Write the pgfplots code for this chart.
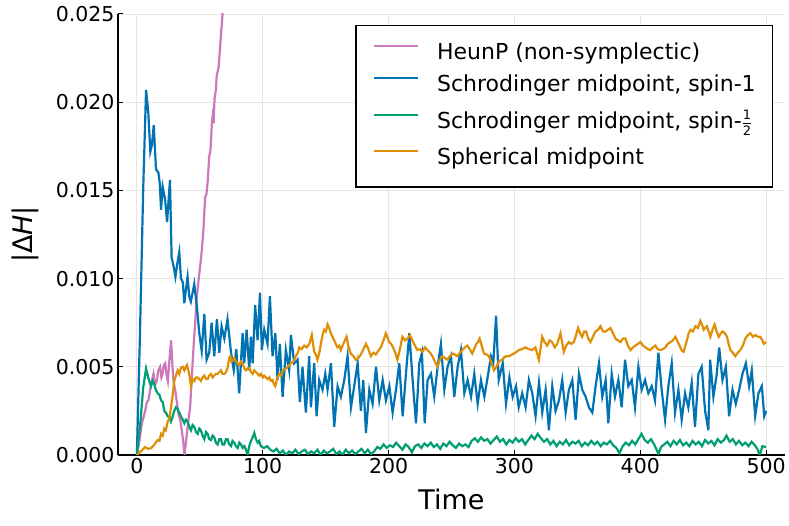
\documentclass[border=0pt]{standalone}
\usepackage{pgfplots}
\pgfplotsset{compat=1.18}
\usepackage{pgfplotstable}
\usepackage{fontspec}
\setmainfont{DejaVu Sans}
\definecolor{cpink}{HTML}{CC78BC}
\definecolor{cblue}{HTML}{0173B2}
\definecolor{cgreen}{HTML}{029E73}
\definecolor{corange}{HTML}{DE8F05}

% values in units of 0.001
\pgfplotstableread{
t v
0 0
2 0.8
4 1.8
6.6 2.5
8 3.0
9.2 3.1
11 3.9
13.2 4.6
14.5 4.0
15.9 4.2
17 4.8
18.5 5.0
19.5 4.4
20.4 4.6
21.5 5.1
22.5 5.2
23.5 4.6
24.6 4.2
26 5.5
27.2 6.5
28.2 5.1
29.1 4.2
30.4 3.7
31.8 3.0
33.1 2.3
34.4 2.0
35.7 1.4
36.8 0.8
37.8 0.0
38.8 0.6
39.7 1.2
41 2.0
42.3 2.7
43.7 4.5
45 6.1
46.3 7.5
47.6 8.9
49 9.9
50.3 10.7
51.6 11.6
52.9 12.8
54.2 14.6
55.3 14.8
56.4 15.6
57.4 16.9
58.5 17.3
59.6 18.8
60.2 19.2
61 18.8
61.7 20.2
62.8 20.7
63.4 21.5
64.1 21.7
65 22.0
66 23.0
67 24.0
68.1 25.0
69.5 26.5
}\heun

\pgfplotstableread{
t v
0 0
2.5 7.0
5 15.0
7.3 20.7
9 19.5
10.7 17.2
12 17.6
13.4 18.7
15.2 16.2
17.1 16.0
18.2 15.4
19.2 13.9
20.5 15.2
22.4 14.5
24 13.2
26.3 15.6
27.6 11.2
29.2 10.7
30.6 10.1
32 10.8
33.7 11.5
35 10.0
36.5 9.8
37.7 8.6
39 9.4
40.3 10.1
41.6 9.0
42.9 8.7
44.3 9.2
45.6 9.7
47.7 8.4
49.6 6.9
51.5 5.9
53.6 8.0
55.4 5.4
57.5 5.8
59.4 7.5
61.5 5.6
63.6 7.7
65.5 5.8
67.3 7.3
69.5 6.6
72 7.7
74.8 5.8
77 4.8
79 6.0
81.3 3.5
84 6.9
85.3 5.2
87.2 7.1
89.3 4.8
90.6 6.7
92 5.2
94 8.5
95.9 6.5
97.8 9.2
99.3 5.95
101.2 7.1
103.8 6.3
105.7 9.0
107.8 5.6
110 6.9
111.8 4.25
113.6 6.3
115.8 3.3
118.4 5.95
121 4.8
122.4 6.8
125 5.2
127.7 5.4
129.5 3.0
131.6 5.0
134.3 2.4
136.9 5.6
138.3 2.7
140.9 5.2
142.8 2.2
144.9 4.25
147.5 3.7
149.7 4.6
151.5 3.7
154.2 5.2
156.8 1.6
159.5 3.9
162.1 3.3
164.8 4.25
167.4 5.6
170.1 2.7
172.7 3.9
175.4 5.2
178 2.5
179.9 4.25
182 1.25
184.7 3.7
187.3 2.9
190 5.0
192.6 3.1
195.3 4.25
197.9 3.1
200.6 3.9
203.2 2.4
205.9 3.7
208.5 5.2
211.2 2.2
213.8 4.6
216.5 6.9
219.1 4.25
221.8 1.8
224.4 5.2
226.5 5.8
228.7 1.8
231 4.25
233.7 4.6
236.3 3.3
239 5.0
241.6 6.3
244.3 3.7
246.9 5.0
249.6 5.6
252.2 3.3
254.9 5.0
257.5 5.95
260.2 3.5
262.8 4.25
265.5 3.3
268.1 4.6
270.8 2.9
273.4 4.25
276.1 3.3
278.7 4.4
281.4 5.6
283.2 5.2
285.4 7.9
287.5 4.25
290.7 5.2
293.3 2.9
296 4.4
298.6 3.3
301.3 3.9
303.4 2.7
306.2 3.5
308.9 2.7
311.5 4.25
314.2 3.5
316.8 2.2
319.5 4.1
322.1 2.4
324.8 3.7
327.4 1.4
330.1 3.9
332.7 2.5
335.4 3.1
338 4.25
340.7 2.4
343.3 3.7
346 4.25
348.6 2.0
351.3 4.6
353.9 3.7
356.6 3.3
359.2 2.7
361.9 2.4
364.5 3.9
367.2 5.2
369.8 3.3
372.5 4.25
374.6 1.8
377.3 4.6
379.9 3.3
382.6 4.25
385.2 2.7
387.9 5.4
390.5 3.9
393.2 4.25
395.8 2.7
398.5 5.0
401.1 3.7
403.8 4.25
406.4 3.5
409.1 3.9
411.7 3.1
414.4 5.8
417 3.7
419.7 2.0
422.3 3.9
425 5.2
427.6 2.4
430.3 3.7
432.9 2.0
435.6 3.5
438.2 2.7
440.9 4.1
443.5 1.6
446.2 4.6
448.8 5.0
451.5 2.5
454.1 1.4
455.5 5.4
458.1 3.3
460.8 4.6
462.7 6.1
465.3 4.25
468 5.0
470.6 2.2
473.3 3.7
475.9 2.9
478.6 3.7
481.2 4.6
483.9 5.2
486.5 3.9
488.6 4.8
491.3 2.2
493.9 3.5
496.6 3.9
498.5 2.2
500 2.5
}\spinone

\pgfplotstableread{
t v
0 0
3 2.0
5 3.8
7.3 4.9
9 4.4
11.2 3.9
12.5 4.2
13.9 4.0
15 3.7
16.5 3.5
18 3.4
19.2 3.1
20.5 3.0
21.8 2.5
23 2.4
24.5 2.2
26 2.1
27.1 1.9
28.5 2.2
29.7 2.5
31 2.7
32.4 2.6
33.7 2.4
35 2.2
36.5 2.0
37.7 1.8
39 2.0
40.3 1.9
41.6 1.6
43 1.4
44.3 1.7
45.6 1.6
47 1.3
48.3 1.2
49.6 1.5
50.9 1.4
52.2 1.1
53.6 0.9
55 1.3
56.2 1.2
57.5 0.9
58.9 0.85
60.2 1.1
61.5 1.0
62.8 0.7
64.2 0.6
65.5 0.9
66.8 0.9
68 0.6
69.5 0.6
70.8 0.9
72.1 0.9
73.4 0.6
74.8 0.5
76 0.8
77.4 0.7
78.7 0.5
80.1 0.4
81.4 0.7
82.7 0.6
84 0.4
85.4 0.5
86.7 0.3
88 0.0
89.3 0.5
90.7 0.8
92 1.0
93.3 1.25
94.6 0.9
96 0.7
97.2 0.8
98.5 0.5
101 0.4
103.5 0.5
106 0.3
108.5 0.2
111 0.35
113.5 0.1
116 0.25
118.5 0.0
121 0.2
123.5 0.1
126 0.3
128.5 0.05
131 0.2
133.5 0.3
136 0.05
138.5 0.2
141 0.1
143.5 0.3
146 0.0
148.5 0.25
151 0.1
153.5 0.2
156 0.35
158.5 0.05
161 0.2
163.5 0.0
166 0.3
168.5 0.1
171 0.25
173.5 0.05
176 0.2
178.5 0.35
181 0.1
183.5 0.3
186 0.05
188.5 0.2
191 0.45
193.5 0.35
196 0.6
198.5 0.4
201 0.55
203.5 0.45
206 0.7
208.5 0.5
211 0.3
213.5 0.6
216 0.45
218.5 0.15
221 0.5
223.5 0.6
226 0.4
228.5 0.65
231 0.5
233.5 0.7
236 0.45
238.5 0.6
241 0.35
243.5 0.65
246 0.5
248.5 0.75
251 0.55
253.5 0.4
256 0.65
258.5 0.5
261 0.6
263.5 0.45
266 0.8
268.5 0.95
271 0.75
273.5 1.0
276 0.8
278.5 0.9
281 0.65
283.5 0.85
286 1.05
288.5 0.75
291 0.9
293.5 0.6
296 0.85
298.5 0.7
301 0.95
303.5 0.75
306 0.9
308.5 0.6
311 0.85
313.5 1.1
316 0.9
318.5 1.2
321 0.95
323.5 0.75
326 0.9
328.5 0.6
331 0.8
333.5 0.5
336 0.75
338.5 0.6
341 0.85
343.5 0.55
346 0.75
348.5 0.65
351 0.8
353.5 0.5
356 0.7
358.5 0.55
361 0.8
363.5 0.6
366 0.75
368.5 0.5
371 0.7
373.5 0.6
376 0.8
378.5 0.55
381 0.4
383.5 0.1
386 0.5
388.5 0.7
391 0.55
393.5 0.8
396 0.6
398.5 0.9
401 1.2
403.5 0.85
406 0.7
408.5 0.9
411 0.6
413 0.3
414.5 0.05
416.5 0.45
419 0.6
421.5 0.75
424 0.5
426.5 0.8
429 0.6
431.5 0.85
434 0.55
436.5 0.7
439 0.5
441.5 0.8
444 0.6
446.5 0.75
449 0.5
451.5 0.85
454 0.65
456.5 0.8
459 0.55
461.5 0.9
464 0.7
466.5 0.85
468.5 1.1
471 0.75
473.5 0.9
476 0.6
478.5 0.8
481 0.55
483.5 0.7
486 0.5
488.5 0.75
491 0.55
493 0.35
495 0.0
497 0.5
500 0.45
}\spinhalf

\pgfplotstableread{
t v
0 0
3 0.2
6.6 0.45
9 0.35
11.2 0.38
13.5 0.55
16.5 0.85
18 0.8
19.2 1.2
20.5 1.1
21.8 1.5
23 1.4
24.5 1.9
26 2.1
27.1 2.7
28.5 3.4
29.7 4.2
31 4.5
32.4 4.8
33.7 4.6
35 4.95
36.5 5.0
37.7 4.8
39 5.0
39.8 5.1
41.6 4.6
43 3.9
44.3 4.3
45.6 4.2
47 4.4
48.3 4.4
49.6 4.3
50.9 4.2
52.2 4.4
53.6 4.5
55 4.3
56.2 4.3
57.5 4.5
58.9 4.6
60.2 4.4
61.5 4.5
62.8 4.6
64.2 4.6
65.5 4.7
66.8 4.8
68 4.6
69.5 4.6
70.8 4.7
72.1 4.95
73.4 5.5
74.3 5.6
75.2 5.3
76.1 5.4
77.4 5.5
78.7 5.3
80 5.2
81.4 5.1
82.7 5.3
84 5.2
85.4 4.9
86.7 4.8
88 4.9
89.3 4.95
90.7 4.7
92 4.6
93.3 4.8
94.6 4.7
96 4.6
97.2 4.5
98.5 4.6
100 4.4
101.2 4.5
102.5 4.4
104 4.3
105.2 4.4
106.5 4.2
107.8 4.25
109 4.0
110 3.9
111.5 4.3
113.1 4.6
114.5 4.5
116 4.8
118.4 4.9
120 5.0
122.4 5.2
124.5 5.3
126.3 5.6
128 5.8
129 6.1
131 6.0
133 6.2
135 6.1
137 6.3
139 6.8
140.9 5.85
142.2 5.7
143.5 5.4
145 5.8
146.2 6.3
147.5 6.8
148.8 7.1
150.2 7.0
151.5 7.4
152.8 7.2
154.1 6.9
155.5 6.7
156.8 6.5
158 6.3
159.4 6.1
160.8 6.2
162.1 5.95
163.4 6.2
164.7 6.4
166.6 6.7
168 6.2
170 5.75
172 5.6
174 5.4
176 5.5
178 5.7
180 6.0
182 6.3
184 6.0
185.9 5.6
188 5.8
189.8 5.7
191.8 5.9
193.8 6.1
196 6.5
197.8 6.9
199 6.7
200.4 6.4
202 6.3
203.6 6.1
205.3 5.8
207 5.4
209 6.0
211 6.7
213 6.5
215 6.6
217 6.8
218.9 6.5
221 6.2
222.9 5.95
225 6.0
226.9 5.85
229 6.1
230.8 5.95
233 5.8
234.8 5.6
236.8 5.3
238.8 5.0
240.8 5.4
242.7 5.6
244.7 5.5
246.7 5.4
248.7 5.6
250.7 5.75
252.6 5.7
254.6 5.6
256.6 5.8
258.6 5.95
260.6 6.1
262.6 6.2
264.5 6.0
266.5 5.75
268 6.0
269.7 6.3
271 6.4
272.4 6.6
274 6.2
275.8 5.75
277.8 5.7
279.8 5.6
281.8 5.2
283.8 4.8
285.7 5.0
287.7 5.3
290 5.4
293 5.6
295.6 5.6
298.2 5.7
300.8 5.8
303.5 5.95
306 6.0
308.8 6.1
311.4 6.0
314 5.95
316.7 6.1
319.4 5.4
320.7 6.0
322 6.7
324 6.4
326 6.2
328 6.5
330 6.4
332 6.1
334 6.3
336.6 6.9
339.2 5.85
341.2 6.2
343.2 6.4
345.2 6.3
347.2 6.4
349 6.8
350.6 7.2
352.2 6.9
353.8 6.7
355.4 7.0
357 7.0
358.7 6.6
360.4 6.4
362.4 6.7
364.4 7.0
366.4 7.1
368.4 7.3
370.4 7.0
372.3 7.0
374.3 7.1
376.3 7.2
378.3 6.9
380.3 6.6
382.2 6.5
384.2 6.4
386.2 6.6
388.2 6.6
390.2 6.2
392.2 5.95
394.2 6.1
396.1 6.2
398.1 6.3
400.1 6.4
402.1 6.2
404.1 6.1
406 6.0
408 5.95
410 6.1
412 6.2
414 6.0
416 5.95
418 6.0
419.9 6.1
421.9 6.3
423.9 6.4
425.9 6.5
427.9 6.7
429.9 6.4
431.8 6.1
433.2 5.9
434.5 5.85
435.8 6.2
437.1 6.5
438.4 6.9
439.8 7.1
441.8 7.0
443.8 7.3
445.8 7.2
447.7 7.6
449 7.4
450.4 7.1
451.7 7.2
453 7.3
454.4 7.0
455.7 6.7
457.4 7.1
459.1 7.4
460.7 7.0
462.3 6.7
464 6.9
465.5 7.0
467.2 6.9
468.9 6.7
470.2 6.3
471.6 5.95
473.5 5.8
475.5 5.6
477.5 5.8
479.5 5.95
481.5 6.2
483.5 6.6
485.5 6.8
487.5 6.9
489.5 6.7
491.4 6.8
493.4 6.7
495.4 6.7
497 6.5
498.1 6.3
500 6.4
}\spherical

\begin{document}
\begin{tikzpicture}
\begin{axis}[
  scale only axis, width=667pt, height=441pt,
  xmin=-15, xmax=515, ymin=0, ymax=0.025,
  axis x line*=bottom, axis y line*=left,
  axis line style={line width=1.3pt, black},
  tick align=inside, major tick length=5pt,
  tick style={black, line width=1pt},
  xtick={0,100,200,300,400,500},
  ytick={0,0.005,0.01,0.015,0.02,0.025},
  scaled y ticks=false,
  yticklabel style={/pgf/number format/.cd, fixed, fixed zerofill, precision=3},
  /pgf/number format/assume math mode=true,
  tick label style={font=\fontsize{20.5}{24}\selectfont},
  grid=major, grid style={line width=0.8pt, black!10},
  xlabel={Time}, ylabel={|Δ\textit{H}|},
  label style={font=\fontsize{27}{32}\selectfont},
  xlabel style={at={(axis description cs:0.5,0)}, anchor=base, yshift=-55pt},
  ylabel style={at={(axis description cs:0,0.5)}, anchor=center, rotate=0, yshift=93pt},
  legend cell align=left,
  legend image code/.code={\draw[#1, line width=2.2pt] (0pt,7.5pt) -- (44pt,7.5pt);},
  legend style={at={(rel axis cs:1,1)}, anchor=north east, xshift=-12pt, yshift=-11pt,
    draw=black, line width=1.3pt, fill=white,
    font=\fontsize{22}{26}\selectfont,
    inner xsep=16.7pt, inner ysep=17.5pt, row sep=10.5pt, column sep=18pt,
    nodes={inner sep=0pt, text height=16.5pt, text depth=5pt}},
]
\addplot[cpink, line width=2.2pt] table[x index=0, y expr=\thisrowno{1}*0.001]{\heun};
\addlegendentry{HeunP (non-symplectic)}
\addplot[cblue, line width=2.2pt] table[x index=0, y expr=\thisrowno{1}*0.001]{\spinone};
\addlegendentry{Schrodinger midpoint, spin-1}
\addplot[cgreen, line width=2.2pt] table[x index=0, y expr=\thisrowno{1}*0.001]{\spinhalf};
\addlegendentry[text height=21pt, text depth=9.5pt]{Schrodinger midpoint, spin-$\frac{\mbox{\fontsize{13}{13}\selectfont 1}}{\mbox{\fontsize{13}{13}\selectfont 2}}$}
\addplot[corange, line width=2.2pt] table[x index=0, y expr=\thisrowno{1}*0.001]{\spherical};
\addlegendentry{Spherical midpoint}
\coordinate (O) at (rel axis cs:0,0);
\end{axis}
\pgfresetboundingbox
\path[use as bounding box] (O) ++(-118pt,-71pt) rectangle ++(789pt,526pt);
\end{tikzpicture}
\end{document}
